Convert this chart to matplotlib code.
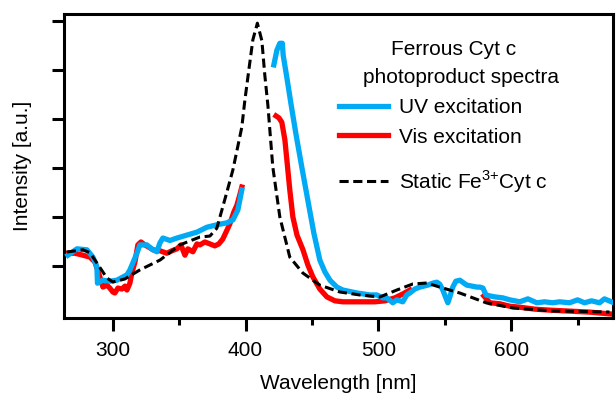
import matplotlib
matplotlib.use("Agg")
import matplotlib.pyplot as plt
from matplotlib.ticker import MultipleLocator, NullFormatter

plt.rcParams['font.family'] = ['Liberation Sans', 'DejaVu Sans']
plt.rcParams['mathtext.fontset'] = 'custom'
plt.rcParams['mathtext.rm'] = 'Liberation Sans'

# ---- data (wavelength nm, intensity a.u.) ----
uv1_x = [266.4, 273.2, 280.7, 285.2, 288.2, 288.6, 292.7, 298.0, 303.2, 310.8, 313.0, 318.3,
         320.5, 325.8, 330.3, 333.3, 335.6, 337.8, 343.1, 348.4, 355.9, 363.4, 370.9, 378.4,
         386.0, 390.5, 394.2, 397.2]
uv1_y = [1.22, 1.35, 1.33, 1.18, 0.98, 0.65, 0.71, 0.69, 0.71, 0.82, 0.92, 1.26,
         1.43, 1.43, 1.33, 1.29, 1.47, 1.57, 1.52, 1.57, 1.63, 1.69, 1.79, 1.84,
         1.88, 1.94, 2.14, 2.55]

uv2_x = [421.3, 423.6, 425.8, 427.7, 428.3, 431.1, 434.1, 437.8, 442.3, 446.8, 451.4, 455.9,
         459.7, 463.5, 468.7, 473.2, 483.8, 493.5, 498.8, 503.3, 506.3, 510.8, 513.8, 518.3,
         521.3, 523.6, 527.4, 531.1, 537.1, 540.9, 543.9, 546.1, 548.4, 550.7, 552.2, 553.7,
         555.9, 558.2, 561.3, 564.3, 566.5, 570.3, 574.1, 576.3, 578.6, 580.9, 583.8, 587.6,
         593.6, 598.8, 606.3, 612.4, 619.1, 625.0, 631.0, 636.3, 643.8, 649.8, 655.0, 660.3,
         666.3, 670.0, 675.3]
uv2_y = [5.10, 5.40, 5.54, 5.54, 5.30, 4.84, 4.32, 3.71, 3.02, 2.35, 1.67, 1.12,
         0.88, 0.71, 0.57, 0.51, 0.45, 0.41, 0.41, 0.35, 0.35, 0.25, 0.31, 0.27,
         0.41, 0.45, 0.53, 0.57, 0.61, 0.65, 0.67, 0.63, 0.51, 0.35, 0.25, 0.37,
         0.57, 0.69, 0.71, 0.65, 0.61, 0.59, 0.57, 0.57, 0.55, 0.41, 0.39, 0.37,
         0.35, 0.31, 0.27, 0.33, 0.25, 0.27, 0.25, 0.27, 0.25, 0.31, 0.25, 0.29,
         0.25, 0.33, 0.27]

vis1_x = [266.4, 271.7, 277.7, 283.0, 286.7, 290.4, 292.7, 295.7, 297.9, 300.2, 301.7, 304.0,
          307.0, 309.3, 310.8, 313.0, 314.5, 316.8, 319.0, 321.3, 324.3, 328.1, 330.3, 335.6,
          340.8, 344.6, 348.4, 351.4, 354.4, 356.6, 360.4, 363.4, 365.7, 369.4, 373.2, 376.9,
          379.9, 382.9, 386.0, 388.2, 391.2, 393.5, 395.7, 397.2]
vis1_y = [1.26, 1.26, 1.22, 1.18, 1.08, 0.78, 0.57, 0.61, 0.55, 0.47, 0.45, 0.55,
          0.53, 0.59, 0.51, 0.65, 0.86, 1.08, 1.43, 1.49, 1.43, 1.37, 1.33, 1.31,
          1.26, 1.31, 1.35, 1.43, 1.22, 1.35, 1.29, 1.45, 1.43, 1.49, 1.45, 1.41,
          1.45, 1.55, 1.73, 1.86, 2.10, 2.24, 2.45, 2.61]

vis2_x = [422.9, 425.1, 427.3, 429.6, 431.1, 433.3, 435.6, 438.7, 443.2, 446.9, 450.6, 455.9,
          461.2, 467.2, 473.2, 486.0, 497.3, 504.8, 512.3, 518.3, 523.6]
vis2_y = [4.06, 4.02, 3.93, 3.57, 3.16, 2.55, 2.00, 1.63, 1.33, 1.02, 0.78, 0.53,
          0.37, 0.29, 0.27, 0.27, 0.27, 0.29, 0.35, 0.43, 0.51]

vis3_x = [579.3, 583.8, 591.3, 598.8, 606.3, 617.6, 628.9, 643.9, 658.9, 675.4]
vis3_y = [0.39, 0.25, 0.23, 0.18, 0.16, 0.12, 0.10, 0.08, 0.06, 0.02]

static_x = [265.6, 277.7, 283.0, 288.2, 295.7, 300.2, 309.2, 320.5, 335.6, 350.6, 365.6, 373.2,
            378.4, 382.2, 386.0, 390.5, 397.2, 399.5, 402.5, 405.5, 408.9, 412.3, 414.5, 416.8,
            420.5, 425.8, 433.3, 443.1, 455.9, 470.9, 485.9, 501.0, 513.8, 525.8, 536.3, 546.1,
            561.1, 581.4, 601.0, 631.0, 673.8]
static_y = [1.285, 1.33, 1.27, 1.06, 0.755, 0.674, 0.735, 0.92, 1.12, 1.43, 1.59, 1.61,
            1.77, 2.14, 2.51, 2.96, 3.83, 4.38, 5.00, 5.61, 5.95, 5.59, 4.89, 4.28,
            3.02, 2.00, 1.18, 0.857, 0.61, 0.47, 0.41, 0.368, 0.51, 0.633, 0.653, 0.57,
            0.45, 0.246, 0.144, 0.083, 0.062]

x_ticks = [300, 400, 500, 600]
legend_title = ["Ferrous Cyt c", "photoproduct spectra"]
labels = ["UV excitation", "Vis excitation", "Static Fe$^{3{+}}$Cyt c"]

BLUE = "#00AAF5"
RED = "#FF0000"
FS = 15

fig = plt.figure(figsize=(6.16, 3.95), dpi=100)
ax = fig.add_axes([0.1034, 0.1957, 0.8925, 0.7696])

lw = 3.8
l_uv, = ax.plot(uv1_x, uv1_y, color=BLUE, lw=lw, solid_joinstyle='round', zorder=3)
ax.plot(uv2_x, uv2_y, color=BLUE, lw=lw, solid_joinstyle='round', zorder=3)
l_vis, = ax.plot(vis1_x, vis1_y, color=RED, lw=lw, solid_joinstyle='round', zorder=2)
ax.plot(vis2_x, vis2_y, color=RED, lw=lw, solid_joinstyle='round', zorder=2)
ax.plot(vis3_x, vis3_y, color=RED, lw=lw, solid_joinstyle='round', zorder=2)
l_st, = ax.plot(static_x, static_y, color='black', lw=2.2, ls=(0, (3.0, 1.5)), zorder=4)

ax.set_xlim(263.2, 676.8)
ax.set_ylim(-0.054, 6.143)

ax.set_xticks(x_ticks)
ax.xaxis.set_minor_locator(MultipleLocator(50))
ax.set_yticks([1, 2, 3, 4, 5, 6])
ax.yaxis.set_major_formatter(NullFormatter())

for s in ax.spines.values():
    s.set_linewidth(2.2)
ax.tick_params(axis='both', which='major', direction='out', length=9, width=2.2,
               labelsize=FS, pad=8)
ax.tick_params(axis='x', which='minor', direction='out', length=5.3, width=2.2)
ax.tick_params(top=False, right=False)

ax.set_xlabel("Wavelength [nm]", fontsize=FS, labelpad=10)
ax.set_ylabel("Intensity [a.u.]", fontsize=FS, labelpad=6)

# legend title lines
ax.text(0.710, 0.864, legend_title[0], transform=ax.transAxes, ha='center',
        va='baseline', fontsize=FS)
ax.text(0.723, 0.771, legend_title[1], transform=ax.transAxes, ha='center',
        va='baseline', fontsize=FS)

common = dict(frameon=False, fontsize=FS, handlelength=2.35, handletextpad=0.56,
              borderpad=0, borderaxespad=0, loc='center left')
entries = [(l_uv, labels[0], 0.690), (l_vis, labels[1], 0.594), (l_st, labels[2], 0.449)]
for i, (h, lab, yy) in enumerate(entries):
    lg = ax.legend([h], [lab], bbox_to_anchor=(0.500, yy), **common)
    if i < len(entries) - 1:
        ax.add_artist(lg)

fig.savefig("out.png", dpi=100)
